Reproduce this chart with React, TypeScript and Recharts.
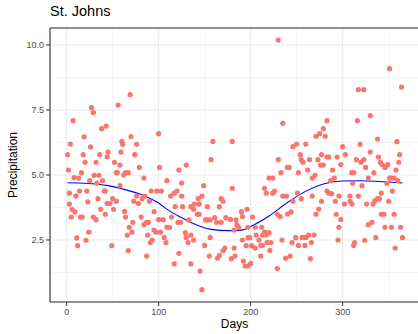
import { ComposedChart, Scatter, Line, XAxis, YAxis, CartesianGrid, ReferenceLine } from 'recharts';

// daily precipitation, [day, value] in segments
const janFeb = [
  [27, 7.59], [29, 7.4], [7, 7.09], [38, 6.78], [43, 6.88], [19, 6.47], [4, 6.19], [26, 6.08], [1, 5.78], [18, 5.78],
  [36, 5.78], [20, 5.49], [32, 5.49], [44, 5.7], [45, 5.88], [2, 5.19], [16, 5.09], [8, 4.9], [13, 4.88], [30, 4.99],
  [35, 4.99], [25, 4.78], [33, 4.69], [39, 4.78], [3, 4.3], [10, 4.19], [14, 4.38], [22, 4.38], [41, 4.38], [42, 4.38],
  [23, 3.97], [34, 4.09], [3, 3.88], [6, 3.67], [9, 3.58], [37, 3.68], [42, 3.49], [5, 3.38], [15, 3.38], [17, 3.38],
  [29, 3.38], [32, 3.28], [24, 2.8], [11, 2.58], [21, 2.49], [12, 2.28], [44, 3.91],
];
const febApr = [
  [69, 8.09], [56, 7.69], [100, 6.59], [70, 6.48], [60, 6.29], [61, 6.18], [76, 6.18], [59, 5.88], [74, 5.78], [52, 5.49],
  [58, 5.38], [79, 5.29], [101, 5.29], [54, 5.09], [55, 5.09], [64, 5.09], [67, 5.09], [62, 5.0], [84, 4.88], [109, 4.78],
  [58, 4.59], [92, 4.38], [98, 4.38], [103, 4.38], [76, 4.19], [85, 4.19], [50, 4.09], [54, 3.99], [73, 3.99], [82, 4.09],
  [90, 3.99], [78, 3.9], [47, 3.9], [51, 3.68], [63, 3.6], [95, 3.59], [64, 3.38], [81, 3.38], [100, 3.28], [105, 3.28],
  [72, 3.18], [84, 3.09], [87, 3.18], [89, 3.18], [68, 2.99], [95, 2.88], [109, 2.99], [71, 2.8], [102, 2.8], [66, 2.69],
  [88, 2.69], [97, 2.8], [106, 2.6], [93, 2.5], [91, 2.4], [108, 2.4], [49, 2.28], [67, 2.09], [87, 1.88],
];
const aprJun = [
  [159, 6.29], [157, 5.59], [130, 5.38], [122, 5.19], [125, 4.69], [149, 4.59], [120, 4.38], [117, 4.3], [125, 4.19], [113, 4.19],
  [147, 4.19], [143, 4.09], [168, 4.09], [170, 3.99], [139, 3.88], [144, 3.88], [118, 3.78], [126, 3.78], [135, 3.78], [153, 3.78],
  [166, 3.78], [138, 3.68], [114, 3.38], [142, 3.49], [144, 3.49], [133, 3.27], [121, 3.18], [124, 3.18], [151, 3.27], [153, 3.27],
  [156, 3.27], [161, 3.36], [163, 3.18], [168, 3.18], [173, 3.36], [112, 2.99], [129, 2.78], [130, 2.6], [135, 2.69], [138, 2.5],
  [132, 2.4], [156, 2.6], [150, 2.29], [172, 2.19], [170, 2.09], [166, 1.9], [164, 1.8], [155, 1.88], [122, 1.99], [117, 1.58],
  [135, 1.58], [145, 1.3], [147, 0.59],
];
const junAug = [
  [230, 10.19], [235, 6.99], [180, 6.29], [180, 4.49], [230, 5.59], [233, 5.09], [240, 5.29], [220, 4.88], [224, 4.88], [215, 4.49],
  [217, 4.3], [224, 4.3], [226, 4.38], [235, 4.19], [239, 4.19], [240, 3.5], [229, 3.49], [232, 3.4], [196, 3.68], [190, 3.59],
  [184, 3.27], [185, 3.09], [187, 2.99], [191, 3.4], [202, 3.38], [178, 3.29], [182, 2.88], [197, 2.99], [205, 2.99], [212, 2.99],
  [206, 2.69], [215, 2.8], [220, 2.78], [213, 2.69], [217, 2.69], [191, 2.5], [197, 2.59], [199, 2.59], [209, 2.5], [211, 2.29],
  [213, 2.29], [218, 2.4], [222, 2.4], [221, 2.1], [234, 2.5], [195, 2.28], [201, 2.28], [205, 2.19], [182, 2.19], [179, 1.78],
  [183, 1.88], [192, 1.69], [194, 1.5], [197, 1.5], [200, 1.6], [211, 1.88], [229, 1.4], [238, 1.8],
];
const augOct = [
  [283, 7.09], [279, 6.78], [275, 6.59], [271, 6.49], [281, 6.49], [260, 6.19], [246, 6.09], [250, 6.19], [300, 6.09], [254, 5.78],
  [277, 5.78], [303, 5.78], [255, 5.59], [257, 5.49], [264, 5.59], [273, 5.59], [283, 5.69], [285, 5.69], [294, 5.69], [276, 5.38],
  [279, 5.38], [298, 5.4], [242, 5.29], [289, 5.19], [262, 5.19], [252, 5.09], [270, 4.99], [267, 4.88], [291, 4.88], [287, 4.78],
  [283, 4.38], [285, 4.3], [288, 4.28], [251, 4.3], [267, 4.19], [296, 4.19], [255, 4.09], [277, 3.99], [292, 3.99], [302, 3.88],
  [246, 3.99], [274, 3.69], [244, 3.58], [271, 3.49], [293, 3.49], [298, 3.29], [296, 2.99], [295, 2.5], [269, 2.69], [263, 2.69],
  [260, 2.6], [256, 2.6], [249, 2.59], [245, 2.4], [252, 2.29], [259, 2.29], [266, 2.4], [243, 1.88], [265, 1.78],
];
const octDec = [
  [351, 9.09], [364, 8.38], [317, 8.28], [323, 8.28], [316, 7.09], [330, 7.28], [338, 6.38], [359, 6.28], [319, 6.18], [362, 5.78],
  [330, 5.88], [339, 5.69], [315, 5.59], [320, 5.49], [323, 5.59], [341, 5.49], [343, 5.4], [346, 5.29], [349, 5.4], [361, 5.49],
  [325, 5.29], [358, 5.19], [310, 5.09], [312, 5.09], [334, 5.09], [328, 4.88], [351, 4.88], [353, 4.88], [356, 4.88], [360, 4.78],
  [348, 4.68], [311, 4.68], [321, 4.59], [354, 4.38], [342, 4.3], [308, 4.19], [317, 4.19], [340, 4.09], [338, 4.09], [335, 4.01],
  [308, 3.99], [310, 3.88], [326, 3.88], [333, 3.88], [350, 3.99], [342, 3.49], [345, 3.49], [356, 3.49], [328, 3.09], [332, 3.18],
  [346, 2.99], [353, 2.99], [363, 2.99], [336, 2.59], [324, 2.49], [313, 2.4], [312, 2.29], [365, 2.59], [357, 2.19],
];

// smoothed fit (blue curve)
const fitDays = [1, 20, 45, 60, 80, 100, 110, 125, 140, 157, 175, 190, 200, 220, 240, 260, 280, 300, 320, 340, 365];
const fitValues = [4.7, 4.68, 4.59, 4.47, 4.26, 3.92, 3.66, 3.36, 3.1, 2.91, 2.86, 2.88, 3.02, 3.42, 3.94, 4.38, 4.66, 4.77, 4.78, 4.75, 4.69];

const xTicks = [0, 100, 200, 300];
const xMinor = [50, 150, 250, 350];
const yTicks = [2.5, 5.0, 7.5, 10.0];
const yMinor = [1.25, 3.75, 6.25, 8.75];

const X_DOMAIN = [-18.1, 383];
const Y_DOMAIN = [0.115, 10.654];

const obsData = [...janFeb, ...febApr, ...aprJun, ...junAug, ...augOct, ...octDec].map(([day, value]) => ({ day, value }));
const fitData = fitDays.map((day, i) => ({ day, fit: fitValues[i] }));

const FONT = '"Liberation Sans", Arial, Helvetica, sans-serif';
const tickStyle = { fill: '#4D4D4D', fontSize: 9, fontFamily: FONT };

const dot = (p: any) => <circle cx={p.cx} cy={p.cy} r={2.6} fill="#F8766D" />;

export default function App() {
  return (
    <div
      style={{
        position: 'absolute',
        left: 0,
        top: 0,
        width: 418,
        height: 334,
        overflow: 'hidden',
        background: '#fff',
        fontFamily: FONT,
      }}
    >
      <div style={{ position: 'absolute', left: 50, top: 3, fontSize: 14.5, color: '#000' }}>St. Johns</div>
      <div
        style={{
          position: 'absolute',
          left: 13,
          top: 165,
          fontSize: 12,
          color: '#000',
          transform: 'translate(-50%, -50%) rotate(-90deg)',
          whiteSpace: 'nowrap',
        }}
      >
        Precipitation
      </div>
      <div
        style={{
          position: 'absolute',
          left: 234.5,
          top: 317,
          fontSize: 12,
          color: '#000',
          transform: 'translateX(-50%)',
        }}
      >
        Days
      </div>
      <ComposedChart width={430} height={334} margin={{ top: 28, right: 11, bottom: 0, left: 0 }}>
        <CartesianGrid stroke="#EBEBEB" strokeWidth={0.55} xAxisId="minor" yAxisId="minor" />
        <CartesianGrid stroke="#EBEBEB" strokeWidth={1.1} />
        <XAxis xAxisId="minor" type="number" dataKey="day" domain={X_DOMAIN} ticks={xMinor} allowDataOverflow hide />
        <YAxis yAxisId="minor" type="number" domain={Y_DOMAIN} ticks={yMinor} allowDataOverflow hide />
        <XAxis
          type="number"
          dataKey="day"
          domain={X_DOMAIN}
          ticks={xTicks}
          allowDataOverflow
          height={32}
          tick={tickStyle}
          tickSize={4}
          tickMargin={3}
          axisLine={{ stroke: '#333333', strokeWidth: 1.1 }}
          tickLine={{ stroke: '#333333' }}
        />
        <YAxis
          type="number"
          domain={Y_DOMAIN}
          ticks={yTicks}
          allowDataOverflow
          width={50}
          tick={tickStyle}
          tickFormatter={(v: number) => v.toFixed(1)}
          tickSize={4}
          tickMargin={2}
          axisLine={{ stroke: '#333333', strokeWidth: 1.1 }}
          tickLine={{ stroke: '#333333' }}
        />
        <ReferenceLine y={Y_DOMAIN[1]} stroke="#333333" strokeWidth={1.1} ifOverflow="visible" />
        <Scatter data={obsData} dataKey="value" shape={dot} isAnimationActive={false} />
        <Line
          data={fitData}
          dataKey="fit"
          type="monotone"
          stroke="#0000FF"
          strokeWidth={1.1}
          dot={false}
          activeDot={false}
          isAnimationActive={false}
        />
      </ComposedChart>
    </div>
  );
}
